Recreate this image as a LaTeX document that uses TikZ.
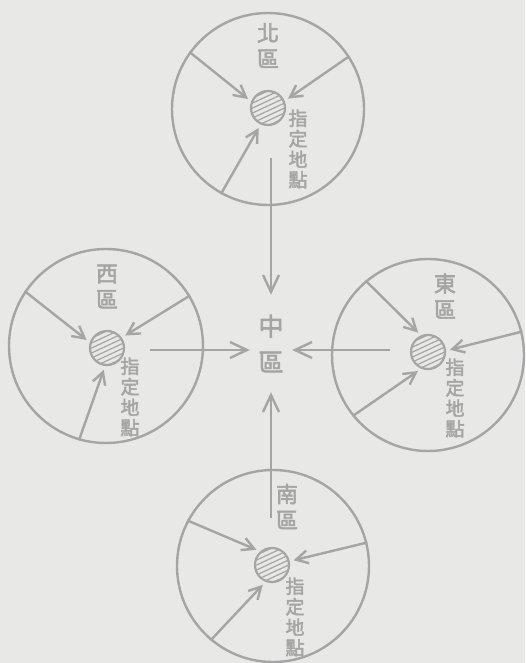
\documentclass[tikz,border=0pt]{standalone}
\usepackage{fontspec}
\newfontfamily\cjk{Noto Sans CJK TC}[FakeBold=2.5]
\usetikzlibrary{arrows.meta}
\definecolor{ink}{RGB}{165,165,165}
\definecolor{paper}{RGB}{232,232,230}
\tikzset{
  region/.style={circle,draw=ink,line width=2.4pt,minimum size=#1,inner sep=0pt},
  disk/.style={circle,draw=ink,line width=2.2pt,minimum size=34pt,inner sep=0pt,
    path picture={\foreach \d in {-16,-11.5,...,16}
      \draw[ink,line width=1.2pt] ([shift={(115:\d pt)}]path picture bounding box.center) ++(205:25pt) -- ++(25:50pt);}},
  arr/.style={draw=ink,line width=2.4pt,-{Straight Barb[length=12pt,width=13pt,line width=2.4pt]},shorten >=4pt},
  bigarr/.style={draw=ink,line width=2.4pt,-{Straight Barb[length=17pt,width=16pt,line width=2.4pt]}},
  lab/.style={text=ink,font=\cjk\fontsize{22}{26}\selectfont,align=center,inner sep=0pt},
  spot/.style={text=ink,font=\cjk\fontsize{19}{20.5}\selectfont,align=center,inner sep=0pt},
}
\begin{document}
\begin{tikzpicture}[x=1pt,y=-1pt]
\fill[paper] (0,0) rectangle (525,663);
\useasboundingbox (0,0) rectangle (525,663);
% centre
\node[minimum width=42pt,minimum height=97pt,inner sep=0pt,text=ink,font=\cjk\fontsize{25}{36}\selectfont,align=center] (ctr) at (271,343.5) {中\\區};
% north
\node[region=192pt] (nc) at (268,109) {};
\node[disk] (nd) at (268,108) {};
\node[lab] (nl) at (268,45.5) {北\\區};
\node[spot] (ns) at (298,149) {指\\定\\地\\點};
\draw[arr] (nc.144) -- (nd.159);
\draw[arr] (nc.33) -- (nd.23);
\draw[arr] (nc.-119) -- (nd.-114);
\coordinate (nstart) at (271,158);
\draw[bigarr] (nstart) -- (ctr.north);
% west
\node[region=194pt] (wc) at (106,346) {};
\node[disk] (wd) at (107,348) {};
\node[lab] (wl) at (107,286.5) {西\\區};
\node[spot] (ws) at (130,397) {指\\定\\地\\點};
\draw[arr] (wc.146) -- (wd.162);
\draw[arr] (wc.31) -- (wd.35);
\draw[arr] (wc.-106) -- (wd.-96);
\coordinate (wstart) at (150,350);
\draw[bigarr] (wstart) -- (wstart -| ctr.west);
% east
\node[region=192pt] (ec) at (428,355) {};
\node[disk] (ed) at (428,352) {};
\node[lab] (el) at (445,296) {東\\區};
\node[spot] (es) at (455,398) {指\\定\\地\\點};
\draw[arr] (ec.130) -- (ed.113);
\draw[arr] (ec.14) -- (ed.4);
\draw[arr] (ec.-141) -- (ed.-112);
\coordinate (estart) at (390,350);
\draw[bigarr] (estart) -- (estart -| ctr.east);
% south
\node[region=192pt] (sc) at (273,566) {};
\node[disk] (sd) at (272,565) {};
\node[lab] (sl) at (287,506.5) {南\\區};
\node[spot] (ss) at (295,617) {指\\定\\地\\點};
\draw[arr] (sc.152) -- (sd.131);
\draw[arr] (sc.14) -- (sd.12);
\draw[arr] (sc.-130) -- (sd.-111);
\coordinate (sstart) at (271,518);
\draw[bigarr] (sstart) -- (ctr.south);
\end{tikzpicture}
\end{document}
